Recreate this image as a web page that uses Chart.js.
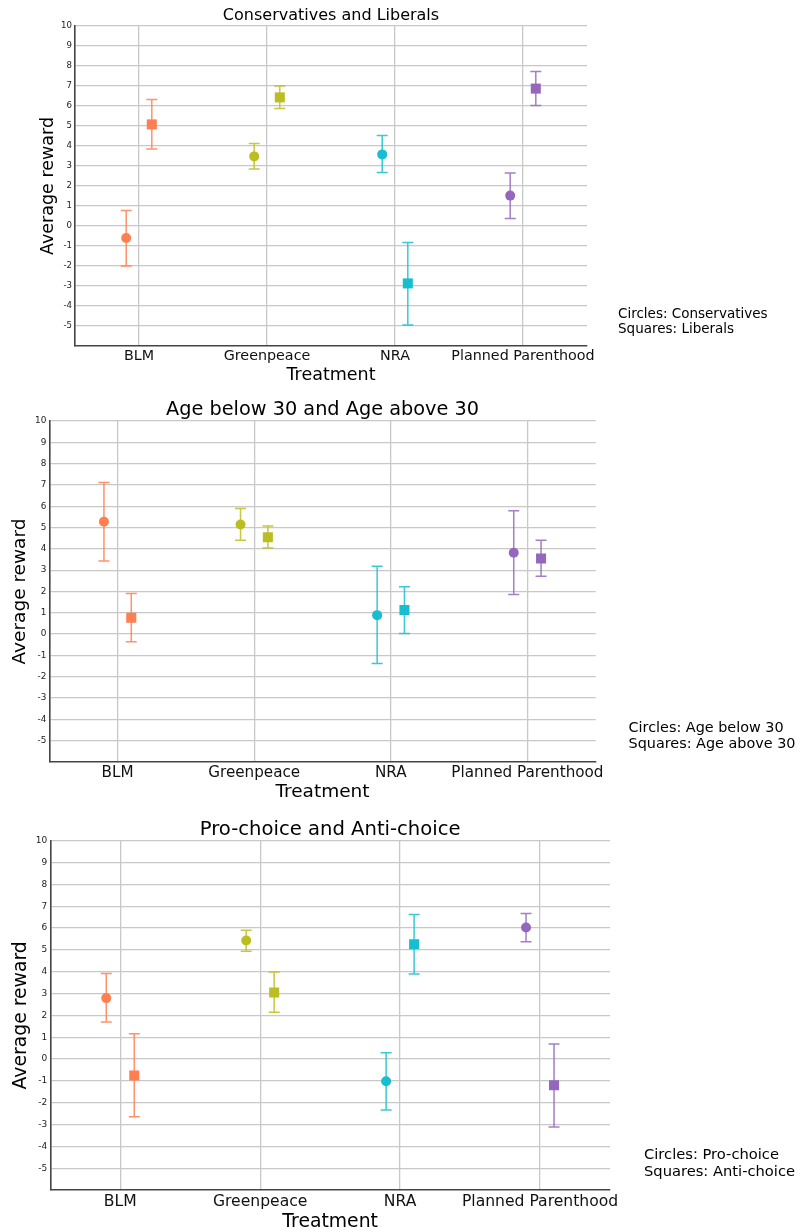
<!DOCTYPE html>
<html>
<head>
<meta charset="utf-8">
<script src="https://cdn.jsdelivr.net/npm/chart.js@4"></script>
<style>
  html, body { margin: 0; padding: 0; background: #fff; overflow: hidden; }
  #page { position: relative; width: 800px; height: 1232px; }
  canvas { position: absolute; left: 0; }
  .note { position: absolute; font-family: "DejaVu Sans", sans-serif; color: #000; white-space: nowrap; }
</style>
</head>
<body>
<div id="page">
  <canvas id="c1" width="800" height="392" style="top:0px"></canvas>
  <canvas id="c2" width="800" height="418" style="top:392px"></canvas>
  <canvas id="c3" width="800" height="432" style="top:810px"></canvas>
  <div class="note" id="n1" style="left:618px; top:305.5px; font-size:13.5px; line-height:15.5px"></div>
  <div class="note" id="n2" style="left:628.5px; top:718.5px; font-size:14.4px; line-height:16.4px"></div>
  <div class="note" id="n3" style="left:644px; top:1146px; font-size:14.7px; line-height:16.7px"></div>
</div>
<script>
// ---- données ----
const treatments = ['BLM', 'Greenpeace', 'NRA', 'Planned Parenthood'];
const yTicks = [-5, -4, -3, -2, -1, 0, 1, 2, 3, 4, 5, 6, 7, 8, 9, 10];

// Conservatives (cercles) / Liberals (carrés)
const consMean = [-0.6, 3.48, 3.58, 1.52];
const consLow  = [-2.0, 2.85, 2.67, 0.37];
const consHigh = [0.78, 4.12, 4.52, 2.65];
const libMean  = [5.08, 6.43, -2.87, 6.87];
const libLow   = [3.85, 5.87, -4.95, 6.02];
const libHigh  = [6.33, 7.0, -0.82, 7.72];

// Age below 30 (cercles) / Age above 30 (carrés)
const youngMean = [5.27, 5.14, 0.89, 3.82];
const youngLow  = [3.43, 4.40, -1.38, 1.86];
const youngHigh = [7.12, 5.90, 3.18, 5.79];
const oldMean   = [0.77, 4.55, 1.13, 3.55];
const oldLow    = [-0.36, 4.04, 0.03, 2.71];
const oldHigh   = [1.91, 5.07, 2.22, 4.40];

// Pro-choice (cercles) / Anti-choice (carrés)
const proMean  = [2.79, 5.43, -1.02, 6.02];
const proLow   = [1.70, 4.94, -2.33, 5.37];
const proHigh  = [3.92, 5.90, 0.29, 6.66];
const antiMean = [-0.76, 3.05, 5.26, -1.20];
const antiLow  = [-2.65, 2.14, 3.89, -3.11];
const antiHigh = [1.16, 3.98, 6.62, 0.69];

const colors = ['#ff7f50', '#bcbd22', '#17becf', '#9467bd'];
const barColors = ['rgba(255,127,80,0.85)', 'rgba(188,189,34,0.85)', 'rgba(23,190,207,0.85)', 'rgba(148,103,189,0.85)'];

Chart.defaults.font.family = "'DejaVu Sans', sans-serif";

// barres d'erreur dessinées avec les échelles du graphique
const errorBars = {
  id: 'errorBars',
  beforeDatasetsDraw(chart) {
    const {ctx, scales: {x, y}} = chart;
    ctx.save();
    ctx.lineWidth = 1.5;
    chart.data.datasets.forEach(ds => {
      ds.data.forEach((p, i) => {
        const px = x.getPixelForValue(p.x);
        const top = y.getPixelForValue(p.high);
        const bot = y.getPixelForValue(p.low);
        ctx.strokeStyle = barColors[i];
        ctx.beginPath();
        ctx.moveTo(px, top); ctx.lineTo(px, bot);
        ctx.moveTo(px - 5.5, top); ctx.lineTo(px + 5.5, top);
        ctx.moveTo(px - 5.5, bot); ctx.lineTo(px + 5.5, bot);
        ctx.stroke();
      });
    });
    ctx.restore();
  }
};

function points(mean, low, high, shift) {
  return treatments.map((t, i) => ({x: i + shift, y: mean[i], low: low[i], high: high[i]}));
}

function panel(id, p, circles, squares) {
  new Chart(document.getElementById(id), {
    type: 'scatter',
    data: {
      datasets: [
        {label: 'circles', data: circles, pointStyle: 'circle', pointRadius: 5, pointHoverRadius: 5,
         pointBackgroundColor: colors, pointBorderWidth: 0},
        {label: 'squares', data: squares, pointStyle: 'rect', pointRadius: 7.1, pointHoverRadius: 7.1,
         pointBackgroundColor: colors, pointBorderWidth: 0}
      ]
    },
    plugins: [errorBars],
    options: {
      responsive: false,
      animation: false,
      layout: {padding: {left: 0, right: p.right, top: 0, bottom: 0}},
      plugins: {
        legend: {display: false},
        tooltip: {enabled: false},
        title: {
          display: true, text: p.title, fullSize: false, color: '#000',
          font: {size: p.titleSize, weight: 'normal', lineHeight: 1},
          padding: {top: p.titleTop, bottom: p.titleBottom}
        }
      },
      scales: {
        x: {
          type: 'linear', min: -0.5, max: 3.5,
          afterBuildTicks: s => { s.ticks = treatments.map((t, i) => ({value: i})); },
          afterFit: s => { s.height = p.xAxisH; },
          ticks: {callback: v => treatments[v], color: '#111', font: {size: p.xTick},
                  padding: p.xTickPad, maxRotation: 0, minRotation: 0, autoSkip: false},
          grid: {color: '#c8c8c8', lineWidth: 1.3, drawTicks: false},
          border: {color: '#444', width: 1.6},
          title: {display: true, text: 'Treatment', color: '#000', font: {size: p.axisTitle},
                  padding: {top: 0, bottom: p.xTitlePad}}
        },
        y: {
          type: 'linear', min: -6, max: 10,
          afterBuildTicks: s => { s.ticks = yTicks.map(v => ({value: v})); },
          afterFit: s => { s.width = p.left; },
          ticks: {color: '#222', font: {size: p.yTick}, padding: 3},
          grid: {color: '#c8c8c8', lineWidth: 1.3, drawTicks: false},
          border: {color: '#444', width: 1.6},
          title: {display: true, text: 'Average reward', color: '#000', font: {size: p.axisTitle},
                  padding: {top: p.yTitlePad, bottom: 0}}
        }
      }
    }
  });
}

panel('c1', {title: 'Conservatives and Liberals', titleSize: 16, titleTop: 8.3, titleBottom: 1.7,
             left: 75, right: 213, xAxisH: 46, xTick: 14.3, xTickPad: 1.4, yTick: 8.6,
             axisTitle: 17.5, xTitlePad: 6.5, yTitlePad: 37.5},
      points(consMean, consLow, consHigh, -0.1), points(libMean, libLow, libHigh, 0.1));

panel('c2', {title: 'Age below 30 and Age above 30', titleSize: 19.3, titleTop: 8.35, titleBottom: 1.35,
             left: 49.3, right: 204.3, xAxisH: 48, xTick: 15.2, xTickPad: 1.6, yTick: 8.9,
             axisTitle: 18.5, xTitlePad: 6.9, yTitlePad: 9.4},
      points(youngMean, youngLow, youngHigh, -0.1), points(oldMean, oldLow, oldHigh, 0.1));

panel('c3', {title: 'Pro-choice and Anti-choice', titleSize: 19.6, titleTop: 9.8, titleBottom: 1.3,
             left: 50.3, right: 190, xAxisH: 52, xTick: 15.6, xTickPad: 2.1, yTick: 9,
             axisTitle: 18.8, xTitlePad: 8.6, yTitlePad: 9.6},
      points(proMean, proLow, proHigh, -0.1), points(antiMean, antiLow, antiHigh, 0.1));

document.getElementById('n1').innerHTML = 'Circles: Conservatives<br>Squares: Liberals';
document.getElementById('n2').innerHTML = 'Circles: Age below 30<br>Squares: Age above 30';
document.getElementById('n3').innerHTML = 'Circles: Pro-choice<br>Squares: Anti-choice';
</script>
</body>
</html>
